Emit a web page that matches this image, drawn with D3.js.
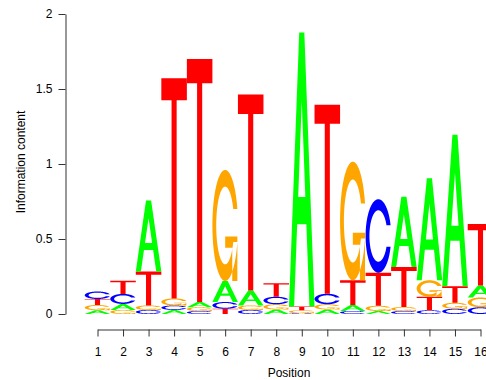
<!DOCTYPE html>
<html>
<head>
<meta charset="utf-8">
<script src="https://cdn.jsdelivr.net/npm/d3@7/dist/d3.min.js"></script>
<style>
  body { margin: 0; background: #fff; }
  svg { display: block; }
  text { font-family: "Liberation Sans", Arial, Helvetica, sans-serif; font-size: 12px; fill: #000; }
</style>
</head>
<body>
<div id="chart"></div>
<script>
// positions along the motif
const positions = [1, 2, 3, 4, 5, 6, 7, 8, 9, 10, 11, 12, 13, 14, 15, 16];
const bases = ["A", "C", "G", "T"];

// information content of each letter per position (bits)
const heightA = [0.025, 0.040, 0.473, 0.027, 0.035, 0.140, 0.100, 0.030, 1.827, 0.030, 0.040, 0.020, 0.467, 0.680, 1.010, 0.080];
const heightC = [0.050, 0.067, 0.027, 0.030, 0.020, 0.045, 0.027, 0.050, 0.005, 0.070, 0.020, 0.490, 0.020, 0.025, 0.035, 0.045];
const heightG = [0.035, 0.027, 0.030, 0.047, 0.025, 0.740, 0.030, 0.035, 0.020, 0.035, 0.790, 0.035, 0.027, 0.110, 0.040, 0.065];
const heightT = [0.040, 0.087, 0.227, 1.467, 1.620, 0.035, 1.307, 0.090, 0.025, 1.260, 0.165, 0.220, 0.267, 0.090, 0.110, 0.410];

const yTicks = [0, 0.5, 1, 1.5, 2];
const colors = { A: "#00ff00", C: "#0000ff", G: "#ffa500", T: "#ff0000" };

const width = 486, height = 380;

const svg = d3.select("#chart").append("svg")
  .attr("width", width)
  .attr("height", height);

const x = d3.scaleLinear().domain([1, 16]).range([97.5, 480.5]);
const y = d3.scaleLinear().domain([0, 2]).range([314, 14]);
const colW = x(2) - x(1);

// letter outlines in a unit box (0..1), y pointing up, like seqLogo
function arcShape() {
  const n = 100;
  const lin = (a, b) => d3.range(n).map(i => a + (b - a) * i / (n - 1));
  const angle1 = lin(0.3 + Math.PI / 2, Math.PI);
  const angle2 = lin(Math.PI, 1.5 * Math.PI);
  const xl1 = angle1.map(a => 0.5 + 0.5 * Math.sin(a));
  const yl1 = angle1.map(a => 0.5 + 0.5 * Math.cos(a));
  const xl2 = angle2.map(a => 0.5 + 0.5 * Math.sin(a));
  const yl2 = angle2.map(a => 0.5 + 0.5 * Math.cos(a));
  const xl = xl1.concat(xl2), yl = yl1.concat(yl2);
  const xo = xl.concat(xl.slice().reverse());
  const yo = yl.concat(yl.slice().reverse().map(v => 1 - v));

  const hmax = d3.max(yl1);
  let xi1 = angle1.map(a => 0.5 + 0.35 * Math.sin(a));
  let yi1 = angle1.map(a => 0.5 + 0.35 * Math.cos(a));
  const keep = yi1.map(v => v <= hmax);
  xi1 = xi1.filter((v, i) => keep[i]);
  yi1 = yi1.filter((v, i) => keep[i]);
  yi1[0] = hmax;
  const xi2 = angle2.map(a => 0.5 + 0.35 * Math.sin(a));
  const yi2 = angle2.map(a => 0.5 + 0.35 * Math.cos(a));
  const xi = xi1.concat(xi2), yi = yi1.concat(yi2);
  const xin = xi.concat(xi.slice().reverse());
  const yin = yi.concat(yi.slice().reverse().map(v => 1 - v));

  const px = xo.concat(xin.slice().reverse());
  const py = yo.concat(yin.slice().reverse());
  return { poly: px.map((v, i) => [v, py[i]]), r1: d3.max(xl1) };
}

const arc = arcShape();
const shapes = {
  A: [
    [[0, 0], [0.4, 1], [0.6, 1], [1, 0], [0.8, 0], [0.68, 0.3], [0.32, 0.3], [0.2, 0], [0, 0]],
    [[0.36, 0.4], [0.5, 0.75], [0.64, 0.4], [0.36, 0.4]]
  ],
  C: [arc.poly],
  G: [arc.poly, [[arc.r1, 0.4], [0.5, 0.4], [0.5, 0.3], [arc.r1 - 0.2, 0.3], [arc.r1 - 0.2, 0], [arc.r1, 0], [arc.r1, 0.4]]],
  T: [[[0, 1], [1, 1], [1, 0.9], [0.6, 0.9], [0.6, 0], [0.4, 0], [0.4, 0.9], [0, 0.9]]]
};

// build stacks: smallest letter at bottom
const heights = { A: heightA, C: heightC, G: heightG, T: heightT };
const letters = [];
positions.forEach((p, i) => {
  const col = bases.map(b => ({ base: b, h: heights[b][i] }))
    .sort((a, b) => a.h - b.h);
  let acc = 0;
  col.forEach(d => {
    letters.push({ pos: p, base: d.base, y0: acc, y1: acc + d.h });
    acc += d.h;
  });
});

function letterPath(d) {
  const x0 = x(d.pos) - colW / 2;
  const yb = y(d.y0), yt = y(d.y1);
  const hPx = yb - yt;
  return shapes[d.base].map(poly =>
    "M" + poly.map(([ux, uy]) => (x0 + ux * colW).toFixed(2) + "," + (yb - uy * hPx).toFixed(2)).join("L") + "Z"
  ).join("");
}

svg.append("g").attr("class", "letters")
  .selectAll("path")
  .data(letters)
  .enter().append("path")
  .attr("d", letterPath)
  .attr("fill-rule", "evenodd")
  .attr("fill", d => colors[d.base]);

// y axis
const yAxis = svg.append("g")
  .attr("transform", "translate(65.5,0)")
  .call(d3.axisLeft(y).tickValues(yTicks).tickFormat(d3.format("~g")).tickSize(7).tickSizeOuter(0).tickPadding(6));

// x axis
const xAxis = svg.append("g")
  .attr("transform", "translate(0,329.5)")
  .call(d3.axisBottom(x).tickValues(positions).tickFormat(d3.format("d")).tickSize(7).tickSizeOuter(0).tickPadding(11));

[yAxis, xAxis].forEach(g => {
  g.selectAll("path, line").attr("stroke", "#333");
  g.selectAll("text").attr("font-size", 12).attr("font-family", null).attr("fill", "#000");
});

svg.append("text")
  .attr("x", 289)
  .attr("y", 377)
  .attr("text-anchor", "middle")
  .text("Position");

svg.append("text")
  .attr("transform", "translate(25,162) rotate(-90)")
  .attr("text-anchor", "middle")
  .text("Information content");
</script>
</body>
</html>
